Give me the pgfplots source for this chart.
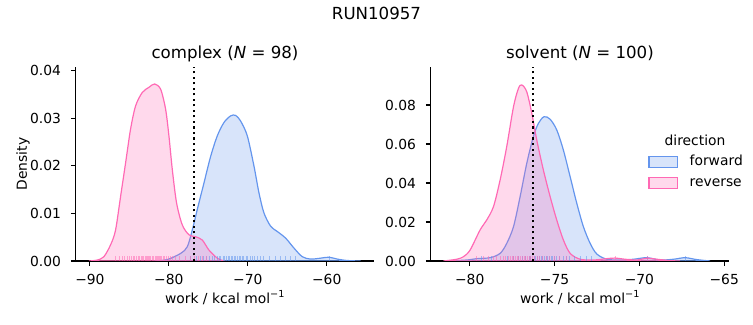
\documentclass[border=0pt]{standalone}
\usepackage{fontspec}
\setmainfont{DejaVu Sans}
\usepackage{pgfplots}
\pgfplotsset{compat=1.18}
\definecolor{cblue}{HTML}{6495ED}
\definecolor{cpink}{HTML}{FF69B4}
\begin{document}
\begin{tikzpicture}
\useasboundingbox (0,0) rectangle (753bp,325bp);
\pgfplotsset{
 panel/.style={
  scale only axis, width=298.6bp, height=194bp,
  axis x line*=bottom, axis y line*=left,
  axis line style={line width=1.11bp, -},
  tick align=outside, major tick length=4.86bp,
  every tick/.style={black, line width=1.11bp},
  minor tick num=0, scaled y ticks=false, scaled x ticks=false,
  font=\fontsize{13.9}{16}\selectfont,
  every tick label/.append style={font=\fontsize{13.9}{16}\selectfont},
  xticklabel style={anchor=base, yshift=-19bp, inner sep=0pt},
  yticklabel style={anchor=east, xshift=-9.7bp, inner sep=0pt},
  every axis title shift=0pt,
  title style={at={(0.5,1)}, anchor=base, yshift=8.3bp, inner sep=0pt, font=\fontsize{16.7}{20}\selectfont},
  xlabel style={at={(axis description cs:0.5,0)}, anchor=base, yshift=-42bp, inner sep=0pt},
  ymin=0,
 },
 kde/.style={draw=#1, fill=#1, fill opacity=0.25, draw opacity=1, line width=1.2bp, smooth, mark=none},
 rug/.style={ycomb, draw=#1, line width=0.9bp, opacity=0.55, mark=none, forget plot},
}
% ---------------- complex ----------------
\begin{axis}[panel, at={(75.7bp,64bp)}, anchor=south west,
  xmin=-91.8, xmax=-53.97, ymax=0.04077,
  xtick={-90,-80,-70,-60}, xticklabels={−90,−80,−70,−60},
  ytick={0,0.01,0.02,0.03,0.04}, yticklabels={0.00,0.01,0.02,0.03,0.04},
  title={complex (\textit{N} = 98)},
  xlabel={work / kcal mol\textsuperscript{−1}},
  ylabel={Density},
  ylabel style={at={(axis description cs:-0.1631,0.5)}, anchor=base, inner sep=0pt},
]
\addplot[kde=cblue] table {
x y
-81.9 0
-80.2 0.0003
-78.5 0.0016
-77.66 0.0030
-77.03 0.0065
-76.4 0.0108
-75.55 0.0164
-74.7 0.0220
-73.86 0.0263
-73.02 0.0291
-72.17 0.0305
-71.54 0.0306
-70.9 0.0294
-70.06 0.0263
-69.21 0.0199
-68.58 0.0143
-67.95 0.0101
-67.1 0.0073
-66.26 0.0062
-65.2 0.0048
-64.14 0.0027
-63.09 0.0009
-62.03 0.0004
-60.76 0.0006
-59.71 0.0008
-58.65 0.0004
-57.39 0.0001
-55.7 0
} \closedcycle;
\addplot[kde=cpink] table {
x y
-90.13 0
-89.07 0.0002
-88.23 0.0009
-87.38 0.0034
-86.75 0.0065
-86.11 0.0136
-85.48 0.0206
-84.85 0.0277
-84.21 0.0326
-83.37 0.0354
-82.52 0.0365
-81.80 0.0372
-81.04 0.0361
-80.41 0.0319
-79.99 0.0263
-79.56 0.0192
-79.02 0.0122
-78.30 0.0076
-77.45 0.0055
-76.61 0.0051
-75.76 0.0044
-74.92 0.0023
-73.86 0.0006
-73.02 0
} \closedcycle;
\addplot[rug=cblue] coordinates {
(-77.2,0.00101) (-76.5,0.00101) (-76.0,0.00101) (-75.6,0.00101) (-75.2,0.00101) (-74.9,0.00101)
(-74.5,0.00101) (-74.2,0.00101) (-73.9,0.00101) (-73.6,0.00101) (-73.4,0.00101) (-73.1,0.00101)
(-72.9,0.00101) (-72.7,0.00101) (-72.5,0.00101) (-72.3,0.00101) (-72.1,0.00101) (-71.9,0.00101)
(-71.7,0.00101) (-71.5,0.00101) (-71.3,0.00101) (-71.1,0.00101) (-70.9,0.00101) (-70.7,0.00101)
(-70.5,0.00101) (-70.2,0.00101) (-70.0,0.00101) (-69.7,0.00101) (-69.4,0.00101) (-69.1,0.00101)
(-68.8,0.00101) (-68.4,0.00101) (-68.0,0.00101) (-67.3,0.00101) (-66.5,0.00101) (-65.8,0.00101)
(-65.2,0.00101) (-64.6,0.00101) (-63.9,0.00101) (-59.7,0.00101)
};
\addplot[rug=cpink] coordinates {
(-86.8,0.00101) (-86.3,0.00101) (-85.9,0.00101) (-85.6,0.00101) (-85.2,0.00101) (-85.0,0.00101)
(-84.7,0.00101) (-84.5,0.00101) (-84.3,0.00101) (-84.1,0.00101) (-83.9,0.00101) (-83.7,0.00101)
(-83.5,0.00101) (-83.4,0.00101) (-83.2,0.00101) (-83.0,0.00101) (-82.9,0.00101) (-82.7,0.00101)
(-82.6,0.00101) (-82.4,0.00101) (-82.3,0.00101) (-82.1,0.00101) (-82.0,0.00101) (-81.9,0.00101)
(-81.7,0.00101) (-81.6,0.00101) (-81.5,0.00101) (-81.3,0.00101) (-81.2,0.00101) (-81.0,0.00101)
(-80.9,0.00101) (-80.7,0.00101) (-80.5,0.00101) (-80.3,0.00101) (-80.1,0.00101) (-79.8,0.00101)
(-79.5,0.00101) (-79.1,0.00101) (-78.6,0.00101) (-77.9,0.00101) (-77.3,0.00101) (-76.7,0.00101)
(-76.3,0.00101) (-75.8,0.00101) (-75.2,0.00101)
};
\addplot[black, line width=2.08bp, dash pattern=on 2.08bp off 3.44bp, forget plot] coordinates {(-76.8,0) (-76.8,0.04077)};
\end{axis}
% ---------------- solvent ----------------
\begin{axis}[panel, at={(430.7bp,64bp)}, anchor=south west,
  xmin=-82.3, xmax=-64.7, ymax=0.0995,
  xtick={-80,-75,-70,-65}, xticklabels={−80,−75,−70,−65},
  ytick={0,0.02,0.04,0.06,0.08}, yticklabels={0.00,0.02,0.04,0.06,0.08},
  title={solvent (\textit{N} = 100)},
  xlabel={work / kcal mol\textsuperscript{−1}},
  legend style={at={(0.7287,0.5442)}, anchor=north west, draw=none, fill=none, inner sep=0pt,
    cells={anchor=base west}, nodes={inner sep=0pt, text height=10bp, text depth=3bp},
    row sep=8bp, font=\fontsize{13.9}{16}\selectfont,
    /tikz/every odd column/.append style={column sep=11.6bp}},
  legend image code/.code={\draw[#1, sharp plot] (0bp,-2bp) rectangle (28.4bp,9bp);},
]
\addplot[kde=cblue] table {
x y
-81.36 0
-80.18 0.0005
-79.59 0.0012
-78.8 0.0017
-78.21 0.0039
-77.82 0.0090
-77.42 0.0176
-77.03 0.0330
-76.64 0.0500
-76.25 0.0638
-75.95 0.0706
-75.62 0.0740
-75.26 0.0727
-74.87 0.0672
-74.48 0.0569
-74.08 0.0432
-73.69 0.0296
-73.30 0.0176
-72.9 0.0090
-72.51 0.0036
-71.92 0.0009
-71.13 0.0005
-70.35 0.0009
-69.56 0.0017
-68.78 0.0005
-67.99 0.0009
-67.3 0.0017
-66.61 0.0007
-65.83 0
} \closedcycle;
\addlegendentry{forward}
\addplot[kde=cpink] table {
x y
-81.55 0
-80.77 0.0009
-80.37 0.0022
-79.98 0.0056
-79.39 0.0159
-79.0 0.0210
-78.6 0.0279
-78.21 0.0415
-77.82 0.0586
-77.42 0.0791
-77.13 0.0885
-76.93 0.0903
-76.64 0.0868
-76.34 0.0757
-76.05 0.0621
-75.66 0.0467
-75.26 0.0330
-74.87 0.0210
-74.48 0.0108
-74.08 0.0039
-73.49 0.0009
-72.71 0.0005
-71.92 0.0012
-71.43 0.0015
-70.84 0.0009
-70.15 0.0005
-69.56 0.0014
-68.97 0.0009
-68.19 0.0002
-67.6 0
} \closedcycle;
\addlegendentry{reverse}
\addplot[rug=cblue] coordinates {
(-79.3,0.00246) (-78.7,0.00246) (-77.8,0.00246) (-77.4,0.00246) (-77.1,0.00246) (-76.9,0.00246)
(-76.7,0.00246) (-76.5,0.00246) (-76.4,0.00246) (-76.2,0.00246) (-76.1,0.00246) (-76.0,0.00246)
(-75.9,0.00246) (-75.8,0.00246) (-75.7,0.00246) (-75.6,0.00246) (-75.5,0.00246) (-75.4,0.00246)
(-75.3,0.00246) (-75.2,0.00246) (-75.1,0.00246) (-75.0,0.00246) (-74.9,0.00246) (-74.7,0.00246)
(-74.5,0.00246) (-74.3,0.00246) (-74.1,0.00246) (-73.8,0.00246) (-73.5,0.00246) (-73.1,0.00246)
(-72.8,0.00246) (-69.5,0.00246) (-67.3,0.00246)
};
\addplot[rug=cpink] coordinates {
(-79.6,0.00246) (-79.2,0.00246) (-78.9,0.00246) (-78.6,0.00246) (-78.4,0.00246) (-78.2,0.00246)
(-78.0,0.00246) (-77.9,0.00246) (-77.7,0.00246) (-77.6,0.00246) (-77.5,0.00246) (-77.4,0.00246)
(-77.3,0.00246) (-77.2,0.00246) (-77.1,0.00246) (-77.0,0.00246) (-76.9,0.00246) (-76.8,0.00246)
(-76.7,0.00246) (-76.6,0.00246) (-76.5,0.00246) (-76.4,0.00246) (-76.3,0.00246) (-76.2,0.00246)
(-76.0,0.00246) (-75.9,0.00246) (-75.7,0.00246) (-75.5,0.00246) (-75.3,0.00246) (-75.0,0.00246)
(-74.7,0.00246) (-74.3,0.00246) (-71.4,0.00246) (-69.5,0.00246)
};
\addplot[black, line width=2.08bp, dash pattern=on 2.08bp off 3.44bp, forget plot] coordinates {(-76.27,0) (-76.27,0.0995)};
\node[anchor=base, font=\fontsize{13.9}{16}\selectfont] at (axis description cs:0.8851,0.5943) {direction};
\end{axis}
\node[anchor=north, inner sep=0pt, font=\fontsize{16.7}{20}\selectfont] at (376.5bp,318bp) {RUN10957};
\end{tikzpicture}
\end{document}
